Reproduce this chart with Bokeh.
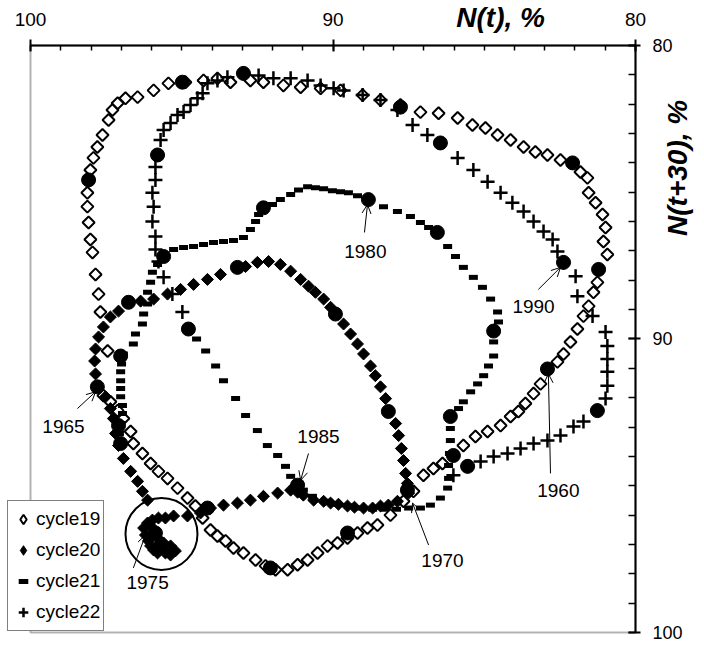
import math
from bokeh.plotting import figure
from bokeh.models import (Range1d, LinearAxis, FixedTicker, Arrow, OpenHead, Label,
                          ColumnDataSource, Legend, BoxAnnotation)
from bokeh.core.properties import value
from bokeh.embed import file_html
from bokeh.resources import INLINE

# ---------------- data (N(t), N(t+30) in %) ----------------
c19_nt = [97.69, 97.75, 97.85, 97.95, 98.02, 98.08, 98.12, 98.12, 98.08, 98.02,
          97.92, 97.79, 97.62, 97.42, 97.29, 97.12, 96.86, 96.46, 95.93, 95.44,
          94.88, 94.28, 93.82, 93.39, 92.73, 92.30, 91.64, 91.07, 90.41, 89.75,
          89.02, 88.43, 87.77, 87.11, 86.51, 85.88, 85.39, 84.96, 84.56, 84.13,
          83.70, 83.31, 82.91, 82.48, 82.08, 81.82, 81.59, 81.55, 81.32, 81.09,
          80.99, 81.06, 80.93, 81.22, 81.26, 81.39, 81.55, 81.72, 81.92, 82.15,
          82.38, 82.58, 82.91, 83.14, 83.37, 83.64, 83.87, 84.13, 84.46, 84.89,
          85.29, 85.69, 86.02, 86.38, 86.68, 87.01, 87.34, 87.67, 88.10, 88.53,
          88.86, 89.19, 89.52, 89.85, 90.18, 90.51, 90.84, 91.17, 91.50, 91.90,
          92.23, 92.56, 92.96, 93.29, 93.55, 93.82, 94.05, 94.31, 94.55, 94.81,
          95.14, 95.47, 95.77, 96.03, 96.30, 96.60, 96.69, 96.93, 97.12, 97.36,
          97.59, 97.45]
c19_nt30 = [89.08, 88.47, 87.80, 87.05, 86.61, 86.03, 85.49, 85.02, 84.58, 84.24,
            83.83, 83.46, 83.05, 82.54, 82.20, 81.97, 81.80, 81.76, 81.53, 81.29,
            81.25, 81.19, 81.12, 81.25, 81.19, 81.25, 81.36, 81.42, 81.46, 81.53,
            81.69, 81.86, 82.03, 82.27, 82.31, 82.47, 82.71, 82.81, 83.05, 83.22,
            83.46, 83.63, 83.73, 83.90, 84.00, 84.31, 84.51, 85.02, 85.36, 85.76,
            86.20, 86.68, 87.12, 87.63, 88.07, 88.41, 88.88, 89.22, 89.66, 90.10,
            90.51, 90.78, 91.02, 91.53, 91.86, 92.20, 92.47, 92.64, 92.95, 93.15,
            93.32, 93.63, 93.97, 94.24, 94.41, 94.64, 95.19, 95.53, 96.00, 96.34,
            96.44, 96.61, 96.78, 96.95, 97.05, 97.29, 97.53, 97.69, 97.86, 97.86,
            97.73, 97.53, 97.29, 97.12, 96.88, 96.71, 96.51, 96.10, 95.69, 95.42,
            95.08, 94.75, 94.51, 94.24, 93.90, 93.56, 93.15, 92.71, 92.44, 92.14,
            91.93, 90.41]

c20_nt = [96.13, 96.30, 96.46, 96.69, 96.93, 97.09, 97.19, 97.26, 97.36, 97.52,
          97.79, 97.85, 97.88, 97.85, 97.75, 97.59, 97.36, 97.09, 96.76, 96.36,
          95.93, 95.47, 95.04, 94.61, 94.15, 93.72, 93.16, 92.89, 92.50, 92.13,
          91.74, 91.40, 91.07, 90.81, 90.58, 90.31, 90.08, 89.92, 89.65, 89.42,
          89.19, 88.99, 88.76, 88.60, 88.43, 88.26, 88.17, 87.93, 87.83, 87.74,
          87.67, 87.60, 87.54, 87.50, 87.87, 88.17, 88.43, 88.69, 88.99, 89.29,
          89.52, 89.82, 90.08, 90.31, 90.64, 90.98, 91.17, 91.40, 91.83, 92.30,
          92.73, 93.16, 93.62, 94.05, 94.38, 94.81, 95.27, 95.54, 95.77, 95.97,
          96.13, 96.26, 96.20, 96.10, 96.03, 95.93, 95.80, 95.54, 95.37, 95.21,
          95.37, 95.60, 95.80, 95.93, 96.03]
c20_nt30 = [95.49, 95.19, 94.85, 94.51, 94.07, 93.63, 93.22, 92.71, 92.37, 91.97,
            91.63, 91.19, 90.75, 90.34, 89.93, 89.59, 89.25, 89.05, 88.75, 88.71,
            88.64, 88.47, 88.31, 88.14, 87.97, 87.80, 87.56, 87.53, 87.39, 87.36,
            87.46, 87.69, 87.97, 88.20, 88.41, 88.64, 88.92, 89.15, 89.49, 89.83,
            90.17, 90.51, 90.92, 91.25, 91.63, 92.03, 92.47, 92.88, 93.29, 93.73,
            94.14, 94.58, 94.92, 95.25, 95.53, 95.66, 95.69, 95.76, 95.76, 95.73,
            95.69, 95.63, 95.59, 95.53, 95.49, 95.32, 95.22, 95.15, 95.25, 95.36,
            95.49, 95.59, 95.66, 95.76, 95.93, 96.03, 96.03, 96.10, 96.10, 96.17,
            96.27, 96.44, 96.68, 96.88, 97.05, 97.19, 97.29, 97.29, 97.36, 97.22,
            97.05, 96.95, 96.78, 96.54, 96.37]

c21_nt = [97.02, 97.06, 97.02, 96.96, 96.96, 97.02, 97.02, 97.02, 97.02, 96.99,
          96.93, 96.60, 96.53, 96.30, 96.26, 96.13, 96.13, 96.03, 95.97, 95.80,
          95.60, 95.27, 94.94, 94.61, 94.28, 93.95, 93.62, 93.29, 92.96, 92.73,
          92.56, 92.46, 92.30, 92.00, 91.74, 91.40, 91.14, 90.84, 90.58, 90.31,
          90.02, 89.75, 89.49, 89.19, 88.83, 88.33, 87.87, 87.44, 87.11, 86.84,
          86.55, 86.21, 85.95, 85.69, 85.36, 85.06, 84.79, 84.56, 84.53, 84.73,
          84.69, 84.69, 84.86, 85.02, 85.22, 85.45, 85.69, 85.85, 86.12, 86.12,
          86.12, 86.15, 86.18, 86.18, 86.21, 86.45, 86.78, 87.11, 87.50, 87.90,
          88.30, 88.69, 89.09, 89.49, 89.88, 90.28, 90.68, 90.98, 91.17, 91.40,
          91.57, 91.83, 92.17, 92.50, 92.89, 93.22, 93.62, 93.88, 94.21, 94.51,
          94.78]
c21_nt30 = [93.56, 93.22, 92.88, 92.54, 92.27, 91.97, 91.69, 91.42, 91.12, 90.85,
            90.51, 90.17, 89.83, 89.49, 89.15, 88.81, 88.41, 88.07, 87.73, 87.46,
            87.19, 86.95, 86.88, 86.85, 86.78, 86.71, 86.68, 86.64, 86.54, 86.27,
            86.00, 85.76, 85.53, 85.42, 85.25, 85.08, 84.92, 84.81, 84.85, 84.88,
            84.95, 84.98, 85.02, 85.12, 85.25, 85.49, 85.66, 85.83, 86.03, 86.20,
            86.37, 86.85, 87.19, 87.56, 87.90, 88.24, 88.64, 89.08, 89.42, 89.76,
            90.10, 90.58, 90.92, 91.25, 91.53, 91.80, 92.14, 92.37, 92.64, 93.05,
            93.46, 93.90, 94.31, 94.75, 95.08, 95.42, 95.66, 95.76, 95.76, 95.80,
            95.80, 95.80, 95.76, 95.69, 95.63, 95.53, 95.36, 95.15, 94.98, 94.68,
            94.34, 93.97, 93.63, 93.12, 92.61, 92.03, 91.42, 90.92, 90.41, 90.00,
            89.66]

c22_nt = [94.98, 95.31, 95.60, 95.77, 95.87, 95.87, 95.97, 95.93, 95.97, 95.87,
          95.87, 95.80, 95.70, 95.60, 95.37, 95.14, 94.94, 94.71, 94.48, 94.31,
          94.15, 93.82, 93.49, 92.96, 92.46, 91.97, 91.40, 90.84, 90.41, 89.98,
          89.65, 89.02, 88.43, 87.87, 87.37, 86.88, 86.45, 85.88, 85.36, 84.89,
          84.46, 84.07, 83.70, 83.37, 83.04, 82.74, 82.58, 82.38, 81.98, 81.92,
          81.42, 80.99, 80.93, 80.93, 80.93, 80.93, 80.99, 81.26, 81.72, 82.05,
          82.48, 82.91, 83.37, 83.80, 84.23, 84.69, 85.12, 85.55, 86.02]
c22_nt30 = [89.08, 88.47, 87.90, 87.36, 86.95, 86.51, 86.00, 85.49, 85.02, 84.58,
            84.14, 83.73, 83.22, 82.88, 82.64, 82.37, 82.27, 82.03, 81.80, 81.63,
            81.29, 81.19, 81.08, 80.95, 81.02, 81.12, 81.12, 81.19, 81.36, 81.46,
            81.53, 81.69, 81.86, 82.20, 82.71, 83.05, 83.32, 83.83, 84.24, 84.64,
            85.02, 85.36, 85.66, 86.00, 86.34, 86.61, 87.02, 87.39, 87.86, 88.54,
            89.22, 89.76, 90.24, 90.68, 91.12, 91.59, 92.03, 92.44, 92.81, 92.98,
            93.29, 93.46, 93.56, 93.73, 93.90, 94.00, 94.17, 94.34, 94.64]

# yearly markers (big dots)
year_nt = [98.08, 94.98, 92.96, 87.77, 86.45, 82.08, 81.22, 95.80, 92.30, 88.83,
           86.55, 82.38, 95.60, 93.16, 96.76, 94.78, 89.92, 84.69, 97.02, 97.79,
           88.17, 86.12, 97.09, 97.02, 82.91, 81.26, 86.02, 85.55, 87.54, 91.17,
           94.15, 89.52, 92.07, 95.87, 95.70]
year_nt30 = [84.58, 81.25, 80.95, 82.10, 83.32, 84.00, 87.63, 83.73, 85.53, 85.25,
             86.37, 87.39, 87.19, 87.56, 88.75, 89.66, 89.15, 89.73, 90.58, 91.63,
             92.47, 92.64, 92.95, 93.56, 91.02, 92.44, 93.97, 94.34, 95.15, 94.98,
             95.76, 96.61, 97.80, 96.61, 97.05]

# year annotations
ann_text = ["1960", "1965", "1970", "1975", "1980", "1985", "1990"]
ann_x = [82.55, 98.91, 86.38, 96.13, 88.93, 90.48, 83.37]
ann_y = [95.15, 92.98, 97.56, 98.31, 87.02, 93.32, 88.88]
arr_x0 = [82.81, 98.45, 86.84, 96.60, 88.96, 90.81, 83.21]
arr_y0 = [94.58, 92.37, 97.02, 97.80, 86.37, 93.90, 88.31]
arr_x1 = [82.88, 97.85, 87.37, 96.20, 88.86, 91.07, 82.48]
arr_y1 = [91.19, 91.80, 95.59, 96.68, 85.42, 94.81, 87.56]
ring_x = [95.67]
ring_y = [96.64]

major_ticks = [80, 90, 100]
minor_ticks = list(range(80, 101))

FONT = "Liberation Sans"

W, H = 702, 644
# the frame fills the whole canvas; axes are pinned at N = 80 with fixed_location
p = figure(width=W, height=H, output_backend="svg", toolbar_location=None,
           x_range=Range1d(100.992, 77.785), y_range=Range1d(100.409, 78.467),
           x_axis_location=None, y_axis_location=None, min_border=0)
p.grid.visible = False
p.outline_line_color = None
p.background_fill_color = "white"
p.border_fill_color = "white"

top = LinearAxis(ticker=FixedTicker(ticks=major_ticks, minor_ticks=minor_ticks),
                 bounds=(80, 100), fixed_location=80)
top.axis_line_width = 2
top.major_tick_line_width = 2
top.major_tick_in = 6
top.major_tick_out = 6
top.minor_tick_in = 5
top.minor_tick_out = 0
top.minor_tick_line_width = 1.5
top.major_label_text_font = FONT
top.major_label_text_font_size = "19px"
top.major_label_text_color = "black"
top.major_label_standoff = 13
p.add_layout(top, "above")

right = LinearAxis(ticker=FixedTicker(ticks=major_ticks, minor_ticks=minor_ticks),
                   bounds=(80, 100), fixed_location=80)
right.axis_line_width = 2
right.major_tick_line_width = 2
right.major_tick_in = 7
right.major_tick_out = 5
right.minor_tick_in = 7
right.minor_tick_out = 0
right.minor_tick_line_width = 1.5
right.major_label_text_font = FONT
right.major_label_text_font_size = "18px"
right.major_label_text_color = "black"
right.major_label_standoff = 12
p.add_layout(right, "right")

# frame lines on the left and bottom sides
p.add_layout(BoxAnnotation(left=100, right=80, top=80, bottom=100, fill_color=None,
                           line_color="black", line_width=2))

r19 = p.scatter(c19_nt, c19_nt30, marker="square", size=8.5, angle=math.pi / 4,
                fill_color=None, line_color="black", line_width=2)
r20 = p.scatter(c20_nt, c20_nt30, marker="square", size=8.5, angle=math.pi / 4,
                fill_color="black", line_color="black", line_width=1)
r21 = p.scatter(c21_nt, c21_nt30, marker="dash", size=9, line_color="black", line_width=5)
r22 = p.scatter(c22_nt, c22_nt30, marker="cross", size=14, line_color="black", line_width=2.5)
p.scatter(year_nt, year_nt30, marker="circle", size=14, fill_color="black", line_color="black")
p.scatter(ring_x, ring_y, marker="circle", size=72, fill_color=None, line_color="black", line_width=2)

# legend swatches: same series drawn with zero size, so only the legend shows their diamond shape
k19 = p.scatter(c19_nt, c19_nt30, marker="diamond", size=0, fill_color=None,
                line_color="black", line_width=2)
k20 = p.scatter(c20_nt, c20_nt30, marker="diamond", size=0, fill_color="black",
                line_color="black", line_width=1)

src = ColumnDataSource(dict(x=ann_x, y=ann_y, t=ann_text))
p.text("x", "y", text="t", source=src, text_font=value(FONT), text_font_size="19px",
       text_align="center", text_baseline="middle", text_color="black")

for x0, y0, x1, y1 in zip(arr_x0, arr_y0, arr_x1, arr_y1):
    p.add_layout(Arrow(end=OpenHead(size=9, line_width=1, line_color="black"),
                       x_start=x0, y_start=y0, x_end=x1, y_end=y1,
                       line_width=1, line_color="black"))

p.add_layout(Label(x=84.46, y=79.05, text="N(t), %", text_font=FONT, text_font_size="28px",
                   text_font_style="bold italic", text_color="black",
                   text_align="center", text_baseline="middle"))
p.add_layout(Label(x=78.61, y=84.17, text="N(t+30), %", text_font=FONT, text_font_size="28px",
                   text_font_style="bold italic", text_color="black",
                   text_align="center", text_baseline="middle", angle=math.pi / 2))

legend = Legend(items=[("cycle19", [k19]), ("cycle20", [k20]), ("cycle21", [r21]), ("cycle22", [r22])],
                location=(7, 13), label_text_font=FONT, label_text_font_size="19px",
                label_text_color="black",
                glyph_width=24, glyph_height=30, spacing=1, padding=3, margin=0,
                label_standoff=1, border_line_color="black", border_line_width=1.5,
                background_fill_color="white", background_fill_alpha=1.0)
p.add_layout(legend, "center")

open("out.html", "w").write(file_html(p, INLINE))
